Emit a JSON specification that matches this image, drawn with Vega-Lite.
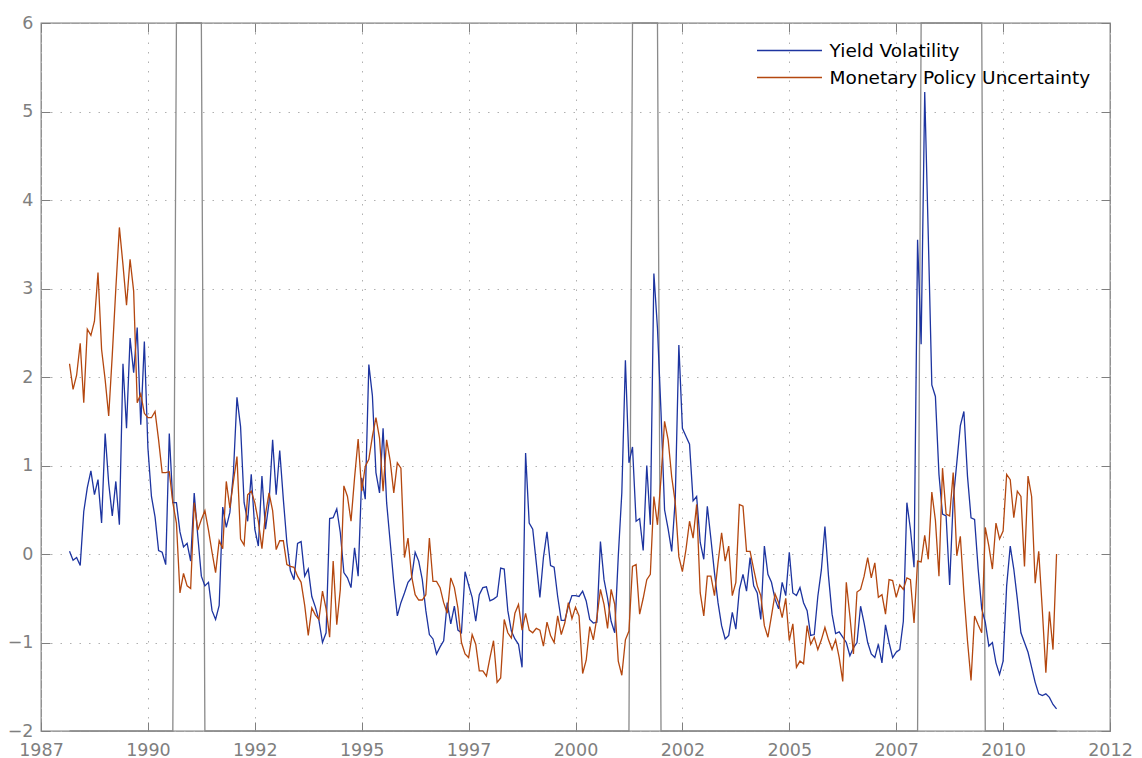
{
  "$schema": "https://vega.github.io/schema/vega-lite/v6.json",
  "width": 1069,
  "height": 708,
  "autosize": "none",
  "padding": {"left": 41, "top": 23, "right": 32, "bottom": 27},
  "background": "white",
  "config": {
    "view": {"stroke": "#7f7f7f", "strokeWidth": 1.3},
    "font": "DejaVu Sans"
  },
  "data": {"values": [
    {"t":1988.167,"yv":0.03,"mpu":2.15,"rec":-2},
    {"t":1988.25,"yv":-0.07,"mpu":1.86,"rec":-2},
    {"t":1988.333,"yv":-0.04,"mpu":2.02,"rec":-2},
    {"t":1988.417,"yv":-0.13,"mpu":2.38,"rec":-2},
    {"t":1988.5,"yv":0.48,"mpu":1.71,"rec":-2},
    {"t":1988.583,"yv":0.75,"mpu":2.54,"rec":-2},
    {"t":1988.667,"yv":0.94,"mpu":2.47,"rec":-2},
    {"t":1988.75,"yv":0.67,"mpu":2.63,"rec":-2},
    {"t":1988.833,"yv":0.84,"mpu":3.18,"rec":-2},
    {"t":1988.917,"yv":0.35,"mpu":2.31,"rec":-2},
    {"t":1989,"yv":1.36,"mpu":1.97,"rec":-2},
    {"t":1989.083,"yv":0.80,"mpu":1.56,"rec":-2},
    {"t":1989.167,"yv":0.43,"mpu":2.25,"rec":-2},
    {"t":1989.25,"yv":0.82,"mpu":3.00,"rec":-2},
    {"t":1989.333,"yv":0.33,"mpu":3.69,"rec":-2},
    {"t":1989.417,"yv":2.15,"mpu":3.27,"rec":-2},
    {"t":1989.5,"yv":1.42,"mpu":2.81,"rec":-2},
    {"t":1989.583,"yv":2.44,"mpu":3.33,"rec":-2},
    {"t":1989.667,"yv":2.05,"mpu":2.97,"rec":-2},
    {"t":1989.75,"yv":2.56,"mpu":1.71,"rec":-2},
    {"t":1989.833,"yv":1.46,"mpu":1.81,"rec":-2},
    {"t":1989.917,"yv":2.40,"mpu":1.59,"rec":-2},
    {"t":1990,"yv":1.20,"mpu":1.54,"rec":-2},
    {"t":1990.083,"yv":0.65,"mpu":1.54,"rec":-2},
    {"t":1990.167,"yv":0.42,"mpu":1.61,"rec":-2},
    {"t":1990.25,"yv":0.04,"mpu":1.29,"rec":-2},
    {"t":1990.333,"yv":0.02,"mpu":0.92,"rec":-2},
    {"t":1990.417,"yv":-0.12,"mpu":0.92,"rec":-2},
    {"t":1990.5,"yv":1.36,"mpu":0.93,"rec":-2},
    {"t":1990.583,"yv":0.58,"mpu":0.58,"rec":-2},
    {"t":1990.667,"yv":0.58,"mpu":0.35,"rec":6},
    {"t":1990.75,"yv":0.25,"mpu":-0.44,"rec":6},
    {"t":1990.833,"yv":0.08,"mpu":-0.22,"rec":6},
    {"t":1990.917,"yv":0.12,"mpu":-0.36,"rec":6},
    {"t":1991,"yv":-0.08,"mpu":-0.39,"rec":6},
    {"t":1991.083,"yv":0.69,"mpu":0.58,"rec":6},
    {"t":1991.167,"yv":0.20,"mpu":0.27,"rec":6},
    {"t":1991.25,"yv":-0.25,"mpu":0.39,"rec":6},
    {"t":1991.333,"yv":-0.36,"mpu":0.49,"rec":-2},
    {"t":1991.417,"yv":-0.32,"mpu":0.27,"rec":-2},
    {"t":1991.5,"yv":-0.64,"mpu":0.02,"rec":-2},
    {"t":1991.583,"yv":-0.74,"mpu":-0.21,"rec":-2},
    {"t":1991.667,"yv":-0.58,"mpu":0.15,"rec":-2},
    {"t":1991.75,"yv":0.53,"mpu":0.06,"rec":-2},
    {"t":1991.833,"yv":0.30,"mpu":0.82,"rec":-2},
    {"t":1991.917,"yv":0.47,"mpu":0.52,"rec":-2},
    {"t":1992,"yv":0.92,"mpu":0.82,"rec":-2},
    {"t":1992.083,"yv":1.77,"mpu":1.10,"rec":-2},
    {"t":1992.167,"yv":1.44,"mpu":0.17,"rec":-2},
    {"t":1992.25,"yv":0.58,"mpu":0.10,"rec":-2},
    {"t":1992.333,"yv":0.37,"mpu":0.67,"rec":-2},
    {"t":1992.417,"yv":0.90,"mpu":0.71,"rec":-2},
    {"t":1992.5,"yv":0.28,"mpu":0.58,"rec":-2},
    {"t":1992.583,"yv":0.09,"mpu":0.37,"rec":-2},
    {"t":1992.667,"yv":0.88,"mpu":0.06,"rec":-2},
    {"t":1992.75,"yv":0.28,"mpu":0.45,"rec":-2},
    {"t":1992.833,"yv":0.58,"mpu":0.69,"rec":-2},
    {"t":1992.917,"yv":1.29,"mpu":0.49,"rec":-2},
    {"t":1993,"yv":0.67,"mpu":0.05,"rec":-2},
    {"t":1993.083,"yv":1.17,"mpu":0.15,"rec":-2},
    {"t":1993.167,"yv":0.62,"mpu":0.15,"rec":-2},
    {"t":1993.25,"yv":0.13,"mpu":-0.12,"rec":-2},
    {"t":1993.333,"yv":-0.19,"mpu":-0.14,"rec":-2},
    {"t":1993.417,"yv":-0.29,"mpu":-0.15,"rec":-2},
    {"t":1993.5,"yv":0.12,"mpu":-0.25,"rec":-2},
    {"t":1993.583,"yv":0.14,"mpu":-0.32,"rec":-2},
    {"t":1993.667,"yv":-0.25,"mpu":-0.58,"rec":-2},
    {"t":1993.75,"yv":-0.17,"mpu":-0.92,"rec":-2},
    {"t":1993.833,"yv":-0.48,"mpu":-0.61,"rec":-2},
    {"t":1993.917,"yv":-0.60,"mpu":-0.69,"rec":-2},
    {"t":1994,"yv":-0.75,"mpu":-0.74,"rec":-2},
    {"t":1994.083,"yv":-1.00,"mpu":-0.42,"rec":-2},
    {"t":1994.167,"yv":-0.89,"mpu":-0.62,"rec":-2},
    {"t":1994.25,"yv":0.40,"mpu":-0.94,"rec":-2},
    {"t":1994.333,"yv":0.41,"mpu":-0.08,"rec":-2},
    {"t":1994.417,"yv":0.51,"mpu":-0.80,"rec":-2},
    {"t":1994.5,"yv":0.24,"mpu":-0.40,"rec":-2},
    {"t":1994.583,"yv":-0.21,"mpu":0.77,"rec":-2},
    {"t":1994.667,"yv":-0.27,"mpu":0.65,"rec":-2},
    {"t":1994.75,"yv":-0.38,"mpu":0.37,"rec":-2},
    {"t":1994.833,"yv":0.07,"mpu":0.86,"rec":-2},
    {"t":1994.917,"yv":-0.25,"mpu":1.30,"rec":-2},
    {"t":1995,"yv":0.86,"mpu":0.71,"rec":-2},
    {"t":1995.083,"yv":0.62,"mpu":0.99,"rec":-2},
    {"t":1995.167,"yv":2.14,"mpu":1.07,"rec":-2},
    {"t":1995.25,"yv":1.79,"mpu":1.33,"rec":-2},
    {"t":1995.333,"yv":0.92,"mpu":1.54,"rec":-2},
    {"t":1995.417,"yv":0.69,"mpu":1.31,"rec":-2},
    {"t":1995.5,"yv":1.42,"mpu":0.71,"rec":-2},
    {"t":1995.583,"yv":0.58,"mpu":1.29,"rec":-2},
    {"t":1995.667,"yv":0.13,"mpu":1.05,"rec":-2},
    {"t":1995.75,"yv":-0.32,"mpu":0.69,"rec":-2},
    {"t":1995.833,"yv":-0.70,"mpu":1.03,"rec":-2},
    {"t":1995.917,"yv":-0.55,"mpu":0.97,"rec":-2},
    {"t":1996,"yv":-0.44,"mpu":-0.04,"rec":-2},
    {"t":1996.083,"yv":-0.32,"mpu":0.18,"rec":-2},
    {"t":1996.167,"yv":-0.27,"mpu":-0.25,"rec":-2},
    {"t":1996.25,"yv":0.02,"mpu":-0.46,"rec":-2},
    {"t":1996.333,"yv":-0.08,"mpu":-0.52,"rec":-2},
    {"t":1996.417,"yv":-0.29,"mpu":-0.52,"rec":-2},
    {"t":1996.5,"yv":-0.64,"mpu":-0.46,"rec":-2},
    {"t":1996.583,"yv":-0.91,"mpu":0.18,"rec":-2},
    {"t":1996.667,"yv":-0.96,"mpu":-0.31,"rec":-2},
    {"t":1996.75,"yv":-1.13,"mpu":-0.31,"rec":-2},
    {"t":1996.833,"yv":-1.05,"mpu":-0.38,"rec":-2},
    {"t":1996.917,"yv":-0.98,"mpu":-0.55,"rec":-2},
    {"t":1997,"yv":-0.55,"mpu":-0.67,"rec":-2},
    {"t":1997.083,"yv":-0.79,"mpu":-0.27,"rec":-2},
    {"t":1997.167,"yv":-0.59,"mpu":-0.38,"rec":-2},
    {"t":1997.25,"yv":-0.86,"mpu":-0.61,"rec":-2},
    {"t":1997.333,"yv":-0.89,"mpu":-1.00,"rec":-2},
    {"t":1997.417,"yv":-0.20,"mpu":-1.13,"rec":-2},
    {"t":1997.5,"yv":-0.35,"mpu":-1.17,"rec":-2},
    {"t":1997.583,"yv":-0.49,"mpu":-0.91,"rec":-2},
    {"t":1997.667,"yv":-0.76,"mpu":-1.02,"rec":-2},
    {"t":1997.75,"yv":-0.46,"mpu":-1.32,"rec":-2},
    {"t":1997.833,"yv":-0.38,"mpu":-1.32,"rec":-2},
    {"t":1997.917,"yv":-0.37,"mpu":-1.38,"rec":-2},
    {"t":1998,"yv":-0.53,"mpu":-1.17,"rec":-2},
    {"t":1998.083,"yv":-0.51,"mpu":-0.98,"rec":-2},
    {"t":1998.167,"yv":-0.48,"mpu":-1.45,"rec":-2},
    {"t":1998.25,"yv":-0.16,"mpu":-1.40,"rec":-2},
    {"t":1998.333,"yv":-0.17,"mpu":-0.74,"rec":-2},
    {"t":1998.417,"yv":-0.64,"mpu":-0.89,"rec":-2},
    {"t":1998.5,"yv":-0.87,"mpu":-0.95,"rec":-2},
    {"t":1998.583,"yv":-0.96,"mpu":-0.67,"rec":-2},
    {"t":1998.667,"yv":-1.02,"mpu":-0.57,"rec":-2},
    {"t":1998.75,"yv":-1.28,"mpu":-0.86,"rec":-2},
    {"t":1998.833,"yv":1.14,"mpu":-0.67,"rec":-2},
    {"t":1998.917,"yv":0.35,"mpu":-0.86,"rec":-2},
    {"t":1999,"yv":0.28,"mpu":-0.89,"rec":-2},
    {"t":1999.083,"yv":-0.10,"mpu":-0.84,"rec":-2},
    {"t":1999.167,"yv":-0.49,"mpu":-0.86,"rec":-2},
    {"t":1999.25,"yv":-0.04,"mpu":-1.04,"rec":-2},
    {"t":1999.333,"yv":0.25,"mpu":-0.77,"rec":-2},
    {"t":1999.417,"yv":-0.13,"mpu":-0.92,"rec":-2},
    {"t":1999.5,"yv":-0.15,"mpu":-1.00,"rec":-2},
    {"t":1999.583,"yv":-0.48,"mpu":-0.70,"rec":-2},
    {"t":1999.667,"yv":-0.75,"mpu":-0.91,"rec":-2},
    {"t":1999.75,"yv":-0.75,"mpu":-0.78,"rec":-2},
    {"t":1999.833,"yv":-0.59,"mpu":-0.55,"rec":-2},
    {"t":1999.917,"yv":-0.47,"mpu":-0.73,"rec":-2},
    {"t":2000,"yv":-0.47,"mpu":-0.60,"rec":-2},
    {"t":2000.083,"yv":-0.48,"mpu":-0.70,"rec":-2},
    {"t":2000.167,"yv":-0.42,"mpu":-1.35,"rec":-2},
    {"t":2000.25,"yv":-0.53,"mpu":-1.20,"rec":-2},
    {"t":2000.333,"yv":-0.74,"mpu":-0.82,"rec":-2},
    {"t":2000.417,"yv":-0.78,"mpu":-0.97,"rec":-2},
    {"t":2000.5,"yv":-0.77,"mpu":-0.72,"rec":-2},
    {"t":2000.583,"yv":0.14,"mpu":-0.40,"rec":-2},
    {"t":2000.667,"yv":-0.29,"mpu":-0.57,"rec":-2},
    {"t":2000.75,"yv":-0.50,"mpu":-0.84,"rec":-2},
    {"t":2000.833,"yv":-0.76,"mpu":-0.40,"rec":-2},
    {"t":2000.917,"yv":-0.89,"mpu":-0.57,"rec":-2},
    {"t":2001,"yv":-0.03,"mpu":-1.21,"rec":-2},
    {"t":2001.083,"yv":0.69,"mpu":-1.37,"rec":-2},
    {"t":2001.167,"yv":2.19,"mpu":-0.97,"rec":-2},
    {"t":2001.25,"yv":1.03,"mpu":-0.87,"rec":-2},
    {"t":2001.333,"yv":1.21,"mpu":-0.14,"rec":6},
    {"t":2001.417,"yv":0.37,"mpu":-0.12,"rec":6},
    {"t":2001.5,"yv":0.40,"mpu":-0.68,"rec":6},
    {"t":2001.583,"yv":0.04,"mpu":-0.50,"rec":6},
    {"t":2001.667,"yv":1.00,"mpu":-0.29,"rec":6},
    {"t":2001.75,"yv":0.33,"mpu":-0.23,"rec":6},
    {"t":2001.833,"yv":3.17,"mpu":0.65,"rec":6},
    {"t":2001.917,"yv":2.55,"mpu":0.33,"rec":6},
    {"t":2002,"yv":1.60,"mpu":0.86,"rec":-2},
    {"t":2002.083,"yv":0.50,"mpu":1.50,"rec":-2},
    {"t":2002.167,"yv":0.28,"mpu":1.29,"rec":-2},
    {"t":2002.25,"yv":0.03,"mpu":0.87,"rec":-2},
    {"t":2002.333,"yv":0.62,"mpu":0.58,"rec":-2},
    {"t":2002.417,"yv":2.36,"mpu":-0.03,"rec":-2},
    {"t":2002.5,"yv":1.42,"mpu":-0.20,"rec":-2},
    {"t":2002.583,"yv":1.33,"mpu":0.05,"rec":-2},
    {"t":2002.667,"yv":1.24,"mpu":0.37,"rec":-2},
    {"t":2002.75,"yv":0.60,"mpu":0.18,"rec":-2},
    {"t":2002.833,"yv":0.65,"mpu":0.56,"rec":-2},
    {"t":2002.917,"yv":0.13,"mpu":-0.44,"rec":-2},
    {"t":2003,"yv":-0.06,"mpu":-0.70,"rec":-2},
    {"t":2003.083,"yv":0.54,"mpu":-0.25,"rec":-2},
    {"t":2003.167,"yv":0.17,"mpu":-0.25,"rec":-2},
    {"t":2003.25,"yv":-0.21,"mpu":-0.47,"rec":-2},
    {"t":2003.333,"yv":-0.55,"mpu":-0.10,"rec":-2},
    {"t":2003.417,"yv":-0.81,"mpu":0.24,"rec":-2},
    {"t":2003.5,"yv":-0.96,"mpu":-0.08,"rec":-2},
    {"t":2003.583,"yv":-0.92,"mpu":0.09,"rec":-2},
    {"t":2003.667,"yv":-0.66,"mpu":-0.47,"rec":-2},
    {"t":2003.75,"yv":-0.85,"mpu":-0.32,"rec":-2},
    {"t":2003.833,"yv":-0.40,"mpu":0.56,"rec":-2},
    {"t":2003.917,"yv":-0.23,"mpu":0.54,"rec":-2},
    {"t":2004,"yv":-0.42,"mpu":0.03,"rec":-2},
    {"t":2004.083,"yv":-0.04,"mpu":0.03,"rec":-2},
    {"t":2004.167,"yv":-0.36,"mpu":-0.17,"rec":-2},
    {"t":2004.25,"yv":-0.44,"mpu":-0.36,"rec":-2},
    {"t":2004.333,"yv":-0.74,"mpu":-0.47,"rec":-2},
    {"t":2004.417,"yv":0.09,"mpu":-0.81,"rec":-2},
    {"t":2004.5,"yv":-0.23,"mpu":-0.94,"rec":-2},
    {"t":2004.583,"yv":-0.32,"mpu":-0.70,"rec":-2},
    {"t":2004.667,"yv":-0.51,"mpu":-0.45,"rec":-2},
    {"t":2004.75,"yv":-0.62,"mpu":-0.55,"rec":-2},
    {"t":2004.833,"yv":-0.32,"mpu":-0.72,"rec":-2},
    {"t":2004.917,"yv":-0.47,"mpu":-0.50,"rec":-2},
    {"t":2005,"yv":0.02,"mpu":-0.98,"rec":-2},
    {"t":2005.083,"yv":-0.44,"mpu":-0.79,"rec":-2},
    {"t":2005.167,"yv":-0.47,"mpu":-1.28,"rec":-2},
    {"t":2005.25,"yv":-0.38,"mpu":-1.21,"rec":-2},
    {"t":2005.333,"yv":-0.55,"mpu":-1.24,"rec":-2},
    {"t":2005.417,"yv":-0.64,"mpu":-0.81,"rec":-2},
    {"t":2005.5,"yv":-0.92,"mpu":-1.02,"rec":-2},
    {"t":2005.583,"yv":-0.91,"mpu":-0.94,"rec":-2},
    {"t":2005.667,"yv":-0.48,"mpu":-1.08,"rec":-2},
    {"t":2005.75,"yv":-0.18,"mpu":-0.97,"rec":-2},
    {"t":2005.833,"yv":0.31,"mpu":-0.83,"rec":-2},
    {"t":2005.917,"yv":-0.25,"mpu":-0.97,"rec":-2},
    {"t":2006,"yv":-0.68,"mpu":-1.08,"rec":-2},
    {"t":2006.083,"yv":-0.90,"mpu":-0.97,"rec":-2},
    {"t":2006.167,"yv":-0.88,"mpu":-1.17,"rec":-2},
    {"t":2006.25,"yv":-0.94,"mpu":-1.44,"rec":-2},
    {"t":2006.333,"yv":-1.00,"mpu":-0.32,"rec":-2},
    {"t":2006.417,"yv":-1.15,"mpu":-0.70,"rec":-2},
    {"t":2006.5,"yv":-1.06,"mpu":-1.13,"rec":-2},
    {"t":2006.583,"yv":-1.00,"mpu":-0.43,"rec":-2},
    {"t":2006.667,"yv":-0.59,"mpu":-0.40,"rec":-2},
    {"t":2006.75,"yv":-0.78,"mpu":-0.25,"rec":-2},
    {"t":2006.833,"yv":-1.00,"mpu":-0.04,"rec":-2},
    {"t":2006.917,"yv":-1.13,"mpu":-0.27,"rec":-2},
    {"t":2007,"yv":-1.17,"mpu":-0.10,"rec":-2},
    {"t":2007.083,"yv":-1.02,"mpu":-0.49,"rec":-2},
    {"t":2007.167,"yv":-1.23,"mpu":-0.46,"rec":-2},
    {"t":2007.25,"yv":-0.80,"mpu":-0.68,"rec":-2},
    {"t":2007.333,"yv":-1.00,"mpu":-0.29,"rec":-2},
    {"t":2007.417,"yv":-1.17,"mpu":-0.30,"rec":-2},
    {"t":2007.5,"yv":-1.11,"mpu":-0.49,"rec":-2},
    {"t":2007.583,"yv":-1.08,"mpu":-0.35,"rec":-2},
    {"t":2007.667,"yv":-0.76,"mpu":-0.40,"rec":-2},
    {"t":2007.75,"yv":0.58,"mpu":-0.27,"rec":-2},
    {"t":2007.833,"yv":0.28,"mpu":-0.29,"rec":-2},
    {"t":2007.917,"yv":-0.15,"mpu":-0.78,"rec":-2},
    {"t":2008,"yv":3.55,"mpu":-0.08,"rec":-2},
    {"t":2008.083,"yv":2.37,"mpu":-0.09,"rec":6},
    {"t":2008.167,"yv":5.22,"mpu":0.21,"rec":6},
    {"t":2008.25,"yv":3.60,"mpu":-0.06,"rec":6},
    {"t":2008.333,"yv":1.91,"mpu":0.70,"rec":6},
    {"t":2008.417,"yv":1.78,"mpu":0.38,"rec":6},
    {"t":2008.5,"yv":0.90,"mpu":-0.25,"rec":6},
    {"t":2008.583,"yv":0.45,"mpu":0.97,"rec":6},
    {"t":2008.667,"yv":0.43,"mpu":0.45,"rec":6},
    {"t":2008.75,"yv":-0.35,"mpu":0.43,"rec":6},
    {"t":2008.833,"yv":0.61,"mpu":0.92,"rec":6},
    {"t":2008.917,"yv":1.03,"mpu":-0.02,"rec":6},
    {"t":2009,"yv":1.45,"mpu":0.20,"rec":6},
    {"t":2009.083,"yv":1.61,"mpu":-0.44,"rec":6},
    {"t":2009.167,"yv":0.88,"mpu":-0.98,"rec":6},
    {"t":2009.25,"yv":0.41,"mpu":-1.43,"rec":6},
    {"t":2009.333,"yv":0.39,"mpu":-0.70,"rec":6},
    {"t":2009.417,"yv":-0.17,"mpu":-0.80,"rec":6},
    {"t":2009.5,"yv":-0.62,"mpu":-0.89,"rec":6},
    {"t":2009.583,"yv":-0.77,"mpu":0.30,"rec":-2},
    {"t":2009.667,"yv":-1.04,"mpu":0.09,"rec":-2},
    {"t":2009.75,"yv":-1.00,"mpu":-0.17,"rec":-2},
    {"t":2009.833,"yv":-1.23,"mpu":0.35,"rec":-2},
    {"t":2009.917,"yv":-1.36,"mpu":0.17,"rec":-2},
    {"t":2010,"yv":-1.21,"mpu":0.26,"rec":-2},
    {"t":2010.083,"yv":-0.36,"mpu":0.90,"rec":-2},
    {"t":2010.167,"yv":0.09,"mpu":0.84,"rec":-2},
    {"t":2010.25,"yv":-0.17,"mpu":0.41,"rec":-2},
    {"t":2010.333,"yv":-0.51,"mpu":0.71,"rec":-2},
    {"t":2010.417,"yv":-0.89,"mpu":0.65,"rec":-2},
    {"t":2010.5,"yv":-1.00,"mpu":-0.14,"rec":-2},
    {"t":2010.583,"yv":-1.11,"mpu":0.88,"rec":-2},
    {"t":2010.667,"yv":-1.28,"mpu":0.65,"rec":-2},
    {"t":2010.75,"yv":-1.45,"mpu":-0.33,"rec":-2},
    {"t":2010.833,"yv":-1.58,"mpu":0.03,"rec":-2},
    {"t":2010.917,"yv":-1.60,"mpu":-0.63,"rec":-2},
    {"t":2011,"yv":-1.58,"mpu":-1.34,"rec":-2},
    {"t":2011.083,"yv":-1.62,"mpu":-0.65,"rec":-2},
    {"t":2011.167,"yv":-1.70,"mpu":-1.08,"rec":-2},
    {"t":2011.25,"yv":-1.75,"mpu":0.00,"rec":-2}
  ]},
  "resolve": {"scale": {"x": "shared", "y": "shared"}, "axis": {"x": "independent", "y": "independent"}},
  "layer": [
    {
      "mark": {"type": "line", "color": "#8a8a8a", "strokeWidth": 1.3},
      "encoding": {
        "x": {"field": "t", "type": "quantitative",
          "scale": {"domain": [1987.5, 2012.5], "nice": false, "zero": false},
          "axis": {"orient": "top", "values": [1987.5, 1990, 1992.5, 1995, 1997.5, 2000, 2002.5, 2005, 2007.5, 2010, 2012.5],
            "labels": false, "ticks": true, "tickSize": -9, "tickColor": "#7f7f7f", "domain": false, "grid": false, "title": null}},
        "y": {"field": "rec", "type": "quantitative",
          "scale": {"domain": [-2, 6], "nice": false, "zero": false},
          "axis": {"orient": "right", "values": [-2, -1, 0, 1, 2, 3, 4, 5, 6],
            "labels": false, "ticks": true, "tickSize": -9, "tickColor": "#7f7f7f", "domain": false, "grid": false, "title": null}}
      }
    },
    {
      "transform": [{"fold": ["yv", "mpu"], "as": ["series", "value"]}],
      "mark": {"type": "line", "strokeWidth": 1.3},
      "encoding": {
        "x": {"field": "t", "type": "quantitative",
          "scale": {"domain": [1987.5, 2012.5], "nice": false, "zero": false},
          "axis": {"orient": "bottom", "values": [1987.5, 1990, 1992.5, 1995, 1997.5, 2000, 2002.5, 2005, 2007.5, 2010, 2012.5],
            "labelExpr": "floor(datum.value)", "labelFont": "DejaVu Sans", "labelFontSize": 17.5, "labelColor": "#7f7f7f",
            "labelPadding": 19, "labelFlush": false, "labelOverlap": false,
            "ticks": true, "tickSize": -9, "tickColor": "#7f7f7f", "domain": false,
            "grid": true, "gridDash": [1.5, 8], "gridColor": "#b0b0b0", "gridWidth": 1, "title": null}},
        "y": {"field": "value", "type": "quantitative",
          "scale": {"domain": [-2, 6], "nice": false, "zero": false},
          "axis": {"orient": "left", "values": [-2, -1, 0, 1, 2, 3, 4, 5, 6], "format": "d",
            "labelFont": "DejaVu Sans", "labelFontSize": 17.5, "labelColor": "#7f7f7f",
            "labelPadding": 17, "labelFlush": false, "labelOverlap": false,
            "ticks": true, "tickSize": -9, "tickColor": "#7f7f7f", "domain": false,
            "grid": true, "gridDash": [1.5, 8], "gridColor": "#b0b0b0", "gridWidth": 1, "title": null}},
        "color": {"field": "series", "type": "nominal",
          "scale": {"domain": ["yv", "mpu"], "range": ["#1d34a0", "#b4470f"]},
          "legend": {"orient": "none", "legendX": 737, "legendY": 16, "title": null,
            "symbolType": "M-3,0H3", "symbolSize": 469, "symbolStrokeWidth": 1.3,
            "labelFont": "DejaVu Sans", "labelFontSize": 18.5, "labelColor": "#000000", "labelLimit": 0,
            "labelOffset": 28.6, "rowPadding": 6, "padding": 0,
            "labelExpr": "datum.label == 'yv' ? 'Yield Volatility' : 'Monetary Policy Uncertainty'"}}
      }
    }
  ]
}
